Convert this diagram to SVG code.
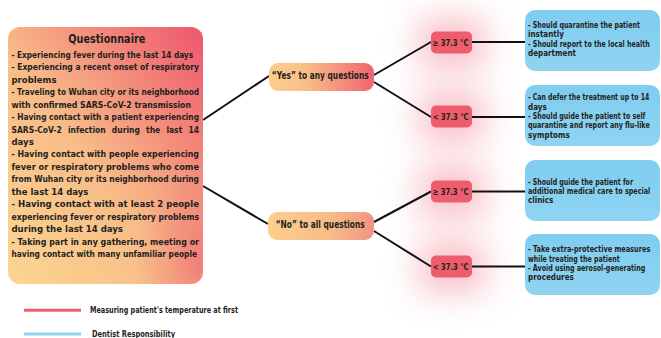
<svg xmlns="http://www.w3.org/2000/svg" width="661" height="338" viewBox="0 0 661 338">
<defs>
<linearGradient id="gQ" x1="0" y1="1" x2="1" y2="0">
<stop offset="0" stop-color="#fcd591"/>
<stop offset="0.45" stop-color="#f8bc88"/>
<stop offset="1" stop-color="#ee566d"/>
</linearGradient>
<radialGradient id="gQr" cx="1" cy="0.92" r="0.35">
<stop offset="0" stop-color="#ef6a73" stop-opacity="0.7"/>
<stop offset="1" stop-color="#ef6a73" stop-opacity="0"/>
</radialGradient>
<linearGradient id="gYes" x1="0" y1="0" x2="1" y2="0">
<stop offset="0" stop-color="#fbcf8e"/>
<stop offset="0.35" stop-color="#f8bf87"/>
<stop offset="1" stop-color="#ef6470"/>
</linearGradient>
<linearGradient id="gNo" x1="0" y1="0" x2="1" y2="0">
<stop offset="0" stop-color="#fbcf8e"/>
<stop offset="0.6" stop-color="#f8bb86"/>
<stop offset="1" stop-color="#f19483"/>
</linearGradient>
<linearGradient id="gB" x1="0" y1="0" x2="0" y2="1">
<stop offset="0" stop-color="#7fcdf0"/>
<stop offset="1" stop-color="#8fd4f2"/>
</linearGradient>
<filter id="blur" x="-150%" y="-150%" width="400%" height="400%">
<feGaussianBlur stdDeviation="18"/>
</filter>
<style>
text{font-family:"Liberation Sans Narrow","DejaVu Sans Condensed",Roboto,sans-serif;font-weight:bold;fill:#231f20;}
.q{font-size:9.5px;}
.b{font-size:8px;}
.t{font-size:9px;}
.lg{font-size:8px;}
.glow{fill:#f07080;opacity:0.5;filter:url(#blur);}
.temp{fill:#ee5d6d;}
.blue{fill:url(#gB);}
.conn line{stroke:#111;stroke-width:2;}
</style>
</defs>
<rect width="661" height="338" fill="#ffffff"/>

<g id="glows">
<rect class="glow" x="420" y="20" width="64" height="46"/>
<rect class="glow" x="420" y="94" width="64" height="46"/>
<rect class="glow" x="420" y="169" width="64" height="46"/>
<rect class="glow" x="420" y="244" width="64" height="46"/>
</g>

<g class="conn" id="connectors">
<line x1="203" y1="120" x2="269" y2="76"/>
<line x1="203" y1="186" x2="268" y2="224"/>
<line x1="374" y1="75" x2="431" y2="42"/>
<line x1="374" y1="82" x2="431" y2="117"/>
<line x1="374" y1="222" x2="431" y2="191.5"/>
<line x1="374" y1="231" x2="431" y2="266.5"/>
<line x1="472" y1="42" x2="525" y2="42"/>
<line x1="472" y1="117" x2="525" y2="117"/>
<line x1="472" y1="191.5" x2="525" y2="191.5"/>
<line x1="472" y1="266.5" x2="525" y2="266.5"/>
</g>

<g id="questionnaire">
<rect x="8" y="27" width="195" height="257" rx="12" fill="url(#gQ)"/>
<rect x="8" y="27" width="195" height="257" rx="12" fill="url(#gQr)"/>
<text x="68.3" y="42.5" font-size="12.5" textLength="77" lengthAdjust="spacingAndGlyphs">Questionnaire</text>
<text class="q" x="11.5" y="57.8" textLength="181.5" lengthAdjust="spacingAndGlyphs">- Experiencing fever during the last 14 days</text>
<text class="q" x="11.5" y="70.25" textLength="187.5" lengthAdjust="spacingAndGlyphs">- Experiencing a recent onset of respiratory</text>
<text class="q" x="11.5" y="82.7">problems</text>
<text class="q" x="11.5" y="95.15" textLength="187.5" lengthAdjust="spacingAndGlyphs">- Traveling to Wuhan city or its neighborhood</text>
<text class="q" x="11.5" y="107.6" textLength="179.5" lengthAdjust="spacingAndGlyphs">with confirmed SARS-CoV-2 transmission</text>
<text class="q" x="11.5" y="120.05" textLength="187.5" lengthAdjust="spacingAndGlyphs">- Having contact with a patient experiencing</text>
<text class="q" x="11.5" y="132.5" textLength="187.5" lengthAdjust="spacingAndGlyphs" word-spacing="4">SARS-CoV-2 infection during the last 14</text>
<text class="q" x="11.5" y="144.95">days</text>
<text class="q" x="11.5" y="157.4" textLength="187.5" lengthAdjust="spacingAndGlyphs">- Having contact with people experiencing</text>
<text class="q" x="11.5" y="169.85" textLength="187.5" lengthAdjust="spacingAndGlyphs">fever or respiratory problems  who come</text>
<text class="q" x="11.5" y="182.3" textLength="187.5" lengthAdjust="spacingAndGlyphs">from Wuhan city or its neighborhood during</text>
<text class="q" x="11.5" y="194.75">the last 14 days</text>
<text class="q" x="11.5" y="207.2" textLength="187.5" lengthAdjust="spacingAndGlyphs">- Having contact with at least 2 people</text>
<text class="q" x="11.5" y="219.65" textLength="187.5" lengthAdjust="spacingAndGlyphs">experiencing fever or respiratory problems</text>
<text class="q" x="11.5" y="232.1">during the last 14 days</text>
<text class="q" x="11.5" y="244.55" textLength="187.5" lengthAdjust="spacingAndGlyphs">- Taking part in any gathering, meeting or</text>
<text class="q" x="11.5" y="257" textLength="185.5" lengthAdjust="spacingAndGlyphs">having contact with many unfamiliar people</text>
</g>

<g id="yes">
<rect x="269" y="63" width="105" height="28" rx="9" fill="url(#gYes)"/>
<text x="271.7" y="79.3" font-size="10" textLength="97" lengthAdjust="spacingAndGlyphs">“Yes” to any questions</text>
</g>
<g id="no">
<rect x="268" y="212" width="106" height="28" rx="9" fill="url(#gNo)"/>
<text x="275.7" y="228.3" font-size="10" textLength="89" lengthAdjust="spacingAndGlyphs">“No” to all questions</text>
</g>

<g id="t1">
<rect class="temp" x="431" y="31.5" width="41" height="22" rx="5"/>
<text class="t" x="432.5" y="45.5" textLength="36" lengthAdjust="spacingAndGlyphs">≥ 37.3 °C</text>
</g>
<g id="t2">
<rect class="temp" x="431" y="105.5" width="41" height="22" rx="5"/>
<text class="t" x="433" y="120" textLength="35.5" lengthAdjust="spacingAndGlyphs">&lt; 37.3 °C</text>
</g>
<g id="t3">
<rect class="temp" x="431" y="180.5" width="41" height="22" rx="5"/>
<text class="t" x="432.5" y="194.5" textLength="36" lengthAdjust="spacingAndGlyphs">≥ 37.3 °C</text>
</g>
<g id="t4">
<rect class="temp" x="431" y="255.5" width="41" height="22" rx="5"/>
<text class="t" x="433" y="270" textLength="35.5" lengthAdjust="spacingAndGlyphs">&lt; 37.3 °C</text>
</g>

<g id="b1">
<rect class="blue" x="525" y="10" width="135" height="61" rx="10"/>
<text class="b" x="528" y="28" textLength="112" lengthAdjust="spacingAndGlyphs">- Should quarantine the patient</text>
<text class="b" x="528" y="37.3">instantly</text>
<text class="b" x="528" y="46.6" textLength="121.7" lengthAdjust="spacingAndGlyphs">- Should report to the local health</text>
<text class="b" x="528" y="55.9">department</text>
</g>
<g id="b2">
<rect class="blue" x="525" y="85" width="135" height="61" rx="10"/>
<text class="b" x="528" y="100.3" textLength="121.3" lengthAdjust="spacingAndGlyphs">- Can defer the treatment up to 14</text>
<text class="b" x="528" y="109.6">days</text>
<text class="b" x="528" y="119" textLength="117.3" lengthAdjust="spacingAndGlyphs">- Should guide the patient to self</text>
<text class="b" x="528" y="128.4" textLength="121.7" lengthAdjust="spacingAndGlyphs">quarantine and  report any flu-like</text>
<text class="b" x="528" y="137.8">symptoms</text>
</g>
<g id="b3">
<rect class="blue" x="525" y="160" width="135" height="61" rx="10"/>
<text class="b" x="528" y="184.7" textLength="105" lengthAdjust="spacingAndGlyphs">- Should guide the patient for</text>
<text class="b" x="528" y="194" textLength="122.3" lengthAdjust="spacingAndGlyphs">additional medical care to  special</text>
<text class="b" x="528" y="203.3">clinics</text>
</g>
<g id="b4">
<rect class="blue" x="525" y="234" width="135" height="61" rx="10"/>
<text class="b" x="528" y="252.3" textLength="122.3" lengthAdjust="spacingAndGlyphs">- Take extra-protective measures</text>
<text class="b" x="528" y="261.7" textLength="91.7" lengthAdjust="spacingAndGlyphs">while treating the patient</text>
<text class="b" x="528" y="271" textLength="117.3" lengthAdjust="spacingAndGlyphs">- Avoid using aerosol-generating</text>
<text class="b" x="528" y="280.3">procedures</text>
</g>

<g id="legend">
<line x1="24" y1="310.3" x2="81" y2="310.3" stroke="#ee5e6c" stroke-width="3"/>
<text class="lg" x="90" y="313" textLength="148" lengthAdjust="spacingAndGlyphs">Measuring patient's temperature at first</text>
<line x1="24" y1="334" x2="81" y2="334" stroke="#8fd3f0" stroke-width="3"/>
<text class="lg" x="92" y="337" textLength="83" lengthAdjust="spacingAndGlyphs">Dentist Responsibility</text>
</g>
</svg>
